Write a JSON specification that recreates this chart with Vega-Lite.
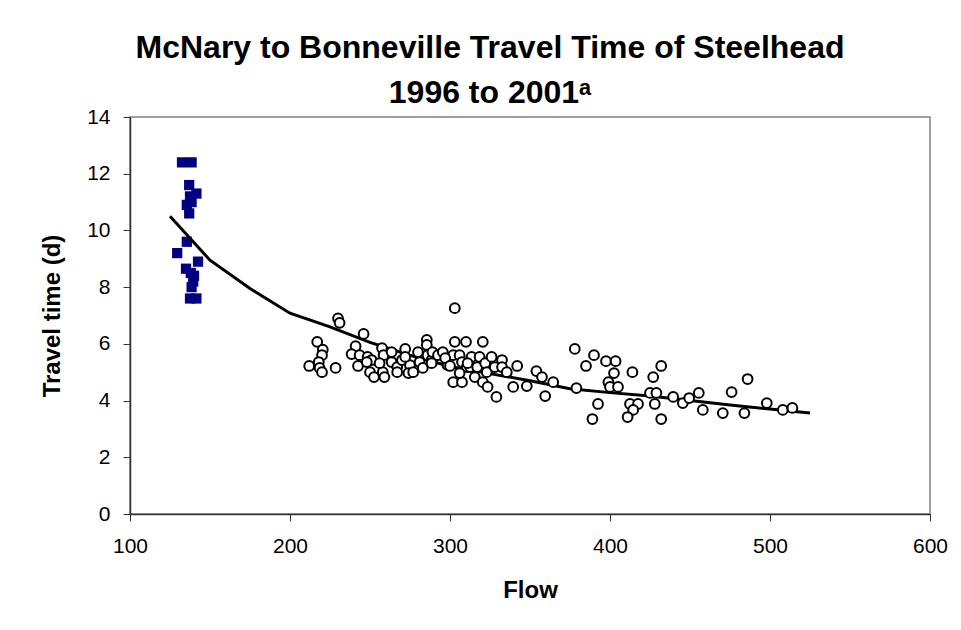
{
  "$schema": "https://vega.github.io/schema/vega-lite/v6.json",
  "width": 800,
  "height": 397,
  "autosize": "none",
  "padding": {"left": 130, "top": 117, "right": 31, "bottom": 116},
  "background": "white",
  "title": {
    "text": ["McNary to Bonneville Travel Time of Steelhead", "1996 to 2001ᵃ"],
    "font": "Liberation Sans",
    "fontSize": 32,
    "fontWeight": "bold",
    "lineHeight": 45,
    "anchor": "middle",
    "frame": "group",
    "dx": -40,
    "offset": -4,
    "color": "black"
  },
  "config": {
    "view": {"stroke": "#808080", "strokeWidth": 1.5},
    "axis": {
      "grid": false,
      "domainColor": "#333333",
      "domainWidth": 1.5,
      "tickColor": "#333333",
      "tickSize": 7,
      "labelFont": "Liberation Sans",
      "labelFontSize": 21,
      "labelColor": "black",
      "labelFlush": false,
      "labelOverlap": false,
      "titleFont": "Liberation Sans",
      "titleFontSize": 24,
      "titleFontWeight": "bold",
      "titleColor": "black"
    }
  },
  "datasets": {
    "early": [
      {"flow": 132.5, "time": 12.4}, {"flow": 138.5, "time": 12.4},
      {"flow": 137, "time": 11.6}, {"flow": 141.5, "time": 11.3},
      {"flow": 137.5, "time": 11.2}, {"flow": 135.5, "time": 10.9},
      {"flow": 138.5, "time": 11.0}, {"flow": 137, "time": 10.6},
      {"flow": 135.5, "time": 9.6}, {"flow": 129.5, "time": 9.2},
      {"flow": 142.5, "time": 8.9}, {"flow": 135, "time": 8.65},
      {"flow": 138, "time": 8.5}, {"flow": 140, "time": 8.4},
      {"flow": 139.5, "time": 8.2}, {"flow": 138.5, "time": 8.0},
      {"flow": 137.5, "time": 7.6}, {"flow": 141.5, "time": 7.6}
    ],
    "later": [
      {"flow": 230, "time": 6.9}, {"flow": 231, "time": 6.74}, {"flow": 217, "time": 6.07},
      {"flow": 220.5, "time": 5.8}, {"flow": 220, "time": 5.6}, {"flow": 218, "time": 5.36},
      {"flow": 212, "time": 5.22}, {"flow": 218.5, "time": 5.15}, {"flow": 220, "time": 5.0},
      {"flow": 228.5, "time": 5.15}, {"flow": 246, "time": 6.35}, {"flow": 241, "time": 5.92},
      {"flow": 238.5, "time": 5.64}, {"flow": 243.5, "time": 5.6}, {"flow": 242.5, "time": 5.22},
      {"flow": 248.5, "time": 5.54}, {"flow": 251, "time": 5.43}, {"flow": 250, "time": 5.0},
      {"flow": 252.5, "time": 4.83}, {"flow": 248, "time": 5.36},
      {"flow": 257.5, "time": 5.85}, {"flow": 258.5, "time": 5.6}, {"flow": 258, "time": 5.0},
      {"flow": 259, "time": 4.83}, {"flow": 263.5, "time": 5.71}, {"flow": 263.5, "time": 5.36},
      {"flow": 267, "time": 5.18}, {"flow": 267, "time": 5.0}, {"flow": 272, "time": 5.82},
      {"flow": 270, "time": 5.43}, {"flow": 275, "time": 5.25}, {"flow": 274, "time": 4.97},
      {"flow": 277, "time": 5.0}, {"flow": 280, "time": 5.71}, {"flow": 281, "time": 5.36},
      {"flow": 283, "time": 5.15}, {"flow": 285.5, "time": 6.14}, {"flow": 285.5, "time": 5.96},
      {"flow": 286, "time": 5.6}, {"flow": 288.5, "time": 5.43}, {"flow": 289, "time": 5.71},
      {"flow": 292.5, "time": 5.6}, {"flow": 295.5, "time": 5.71}, {"flow": 298.5, "time": 5.25},
      {"flow": 303, "time": 7.26}, {"flow": 303, "time": 6.07}, {"flow": 310, "time": 6.07},
      {"flow": 320.5, "time": 6.07}, {"flow": 302, "time": 5.6}, {"flow": 306, "time": 5.6},
      {"flow": 307.5, "time": 5.36}, {"flow": 310.5, "time": 5.18}, {"flow": 313.5, "time": 5.54},
      {"flow": 312.5, "time": 5.18}, {"flow": 317, "time": 5.18}, {"flow": 318.5, "time": 5.54},
      {"flow": 302, "time": 4.65}, {"flow": 307.5, "time": 4.65}, {"flow": 315.5, "time": 4.83},
      {"flow": 322, "time": 5.32}, {"flow": 323, "time": 5.0}, {"flow": 320.5, "time": 4.65},
      {"flow": 323.5, "time": 4.48}, {"flow": 326, "time": 5.54}, {"flow": 328, "time": 5.18},
      {"flow": 329, "time": 4.13}, {"flow": 332.5, "time": 5.43}, {"flow": 332.5, "time": 5.18},
      {"flow": 335.5, "time": 5.0}, {"flow": 342, "time": 5.22}, {"flow": 339.5, "time": 4.48},
      {"flow": 348, "time": 4.51}, {"flow": 354, "time": 5.04}, {"flow": 357.5, "time": 4.83},
      {"flow": 359.5, "time": 4.16}, {"flow": 364.5, "time": 4.65}, {"flow": 378, "time": 5.82},
      {"flow": 379, "time": 4.44}, {"flow": 256, "time": 5.32}, {"flow": 272, "time": 5.54},
      {"flow": 288.5, "time": 5.32}, {"flow": 297, "time": 5.5}, {"flow": 300, "time": 5.22},
      {"flow": 306, "time": 4.97}, {"flow": 311, "time": 5.32},
      {"flow": 390, "time": 5.6}, {"flow": 385, "time": 5.22}, {"flow": 397.5, "time": 5.39},
      {"flow": 403.5, "time": 5.39}, {"flow": 402.5, "time": 4.97}, {"flow": 399, "time": 4.65},
      {"flow": 400, "time": 4.48}, {"flow": 405, "time": 4.48}, {"flow": 414, "time": 5.0},
      {"flow": 432, "time": 5.22}, {"flow": 427, "time": 4.83}, {"flow": 392.5, "time": 3.88},
      {"flow": 389, "time": 3.35}, {"flow": 412.5, "time": 3.88}, {"flow": 417.5, "time": 3.88},
      {"flow": 414.5, "time": 3.67}, {"flow": 411, "time": 3.42}, {"flow": 425, "time": 4.27},
      {"flow": 429, "time": 4.27}, {"flow": 428, "time": 3.88}, {"flow": 432, "time": 3.35},
      {"flow": 439.5, "time": 4.13},
      {"flow": 445.5, "time": 3.91}, {"flow": 449.5, "time": 4.09}, {"flow": 455.5, "time": 4.27},
      {"flow": 458, "time": 3.67}, {"flow": 470.5, "time": 3.56}, {"flow": 476, "time": 4.3},
      {"flow": 484, "time": 3.56}, {"flow": 486, "time": 4.76}, {"flow": 498, "time": 3.91},
      {"flow": 508, "time": 3.67}, {"flow": 514, "time": 3.74}
    ],
    "curve": [
      {"flow": 125, "time": 10.5}, {"flow": 150, "time": 8.95}, {"flow": 175, "time": 7.95},
      {"flow": 200, "time": 7.08}, {"flow": 225, "time": 6.6}, {"flow": 250, "time": 6.05},
      {"flow": 275, "time": 5.6}, {"flow": 300, "time": 5.2}, {"flow": 325, "time": 4.95},
      {"flow": 350, "time": 4.7}, {"flow": 375, "time": 4.42}, {"flow": 400, "time": 4.28},
      {"flow": 425, "time": 4.16}, {"flow": 450, "time": 4.0}, {"flow": 475, "time": 3.84},
      {"flow": 500, "time": 3.7}, {"flow": 525, "time": 3.56}
    ]
  },
  "encoding": {
    "x": {
      "field": "flow", "type": "quantitative", "title": "Flow",
      "scale": {"domain": [100, 600], "nice": false, "zero": false},
      "axis": {"values": [100, 200, 300, 400, 500, 600], "labelPadding": 14, "titlePadding": 22}
    },
    "y": {
      "field": "time", "type": "quantitative", "title": "Travel time (d)",
      "scale": {"domain": [0, 14], "nice": false},
      "axis": {"values": [0, 2, 4, 6, 8, 10, 12, 14], "labelPadding": 13, "titlePadding": 22}
    }
  },
  "layer": [
    {
      "data": {"name": "early"},
      "mark": {"type": "square", "filled": true, "color": "#000080", "size": 105, "opacity": 1}
    },
    {
      "data": {"name": "curve"},
      "mark": {"type": "line", "color": "black", "strokeWidth": 3}
    },
    {
      "data": {"name": "later"},
      "mark": {"type": "circle", "filled": true, "fill": "white", "stroke": "black", "strokeWidth": 2, "size": 95, "opacity": 1}
    }
  ]
}
